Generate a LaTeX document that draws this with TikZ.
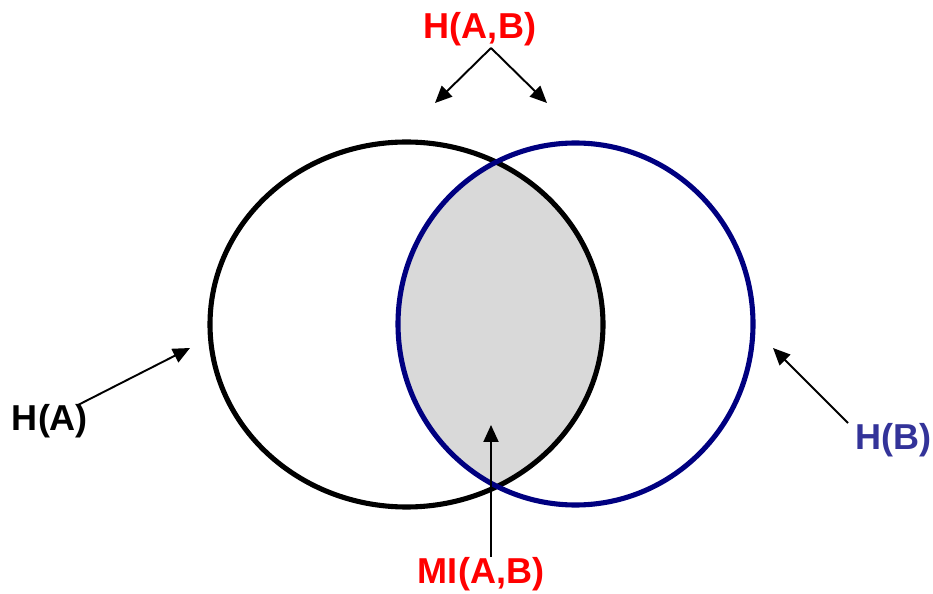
\documentclass[tikz,border=0pt]{standalone}
\usepackage{fontspec}
\setmainfont{Liberation Sans}
\usetikzlibrary{arrows.meta}
\definecolor{navyB}{RGB}{0,0,128}
\definecolor{labB}{RGB}{51,51,153}
\definecolor{shadeMI}{RGB}{217,217,217}
\begin{document}
\begin{tikzpicture}[x=0.02cm,y=-0.02cm,
  lbl/.style={font=\fontsize{20.5}{24}\selectfont\bfseries, inner sep=0pt},
  arr/.style={line width=1.1pt, -{Triangle[length=0.34cm,width=0.3cm]}}]
\useasboundingbox (0,0) rectangle (933,594);
% shaded overlap
\begin{scope}
  \clip (406.5,324.5) ellipse [x radius=196.5, y radius=182.5];
  \fill[shadeMI] (575.5,324) ellipse [x radius=177.5, y radius=181];
\end{scope}
\draw[line width=2.9pt] (406.5,324.5) ellipse [x radius=196.5, y radius=182.5];
\draw[line width=2.9pt, navyB] (575.5,324) ellipse [x radius=177.5, y radius=181];
% labels
\node[lbl, red] (hab) at (480,29) {H(A,B)};
\node[lbl] (ha) at (50,421) {H(A)};
\node[lbl, labB] (hb) at (893,440) {H(B)};
\node[lbl, red] (mi) at (481,574) {MI(A,B)};
\coordinate (apex) at (491,48);
\coordinate (tailA) at (78,405);
\coordinate (tailB) at (848,423);
\coordinate (tipMI) at (491,425);
\foreach \t in {(435,103),(547,103)} \draw[arr] (apex) -- \t;
\draw[arr] (tailA) -- (190,348);
\draw[arr] (tailB) -- (773,348);
\draw[arr] (mi.north -| tipMI) -- (tipMI);
\end{tikzpicture}
\end{document}
